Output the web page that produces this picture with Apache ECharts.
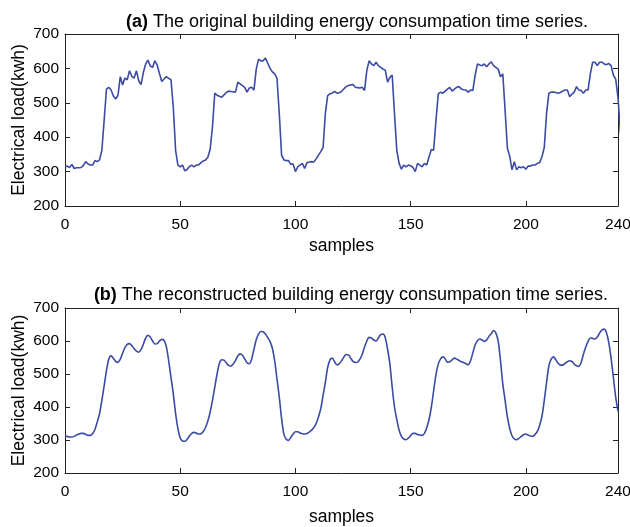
<!DOCTYPE html>
<html><head><meta charset="utf-8">
<script src="https://cdn.jsdelivr.net/npm/echarts@6/dist/echarts.min.js"></script>
<style>html,body{margin:0;padding:0;background:#fff}#c{width:630px;height:527px}</style>
</head><body><div id="c"></div>
<script>
const titleA = "The original building energy consumpation time series.";
const titleB = "The reconstructed building energy consumpation time series.";
const xTicks = [0, 50, 100, 150, 200, 240];
const yTicks = [200, 300, 400, 500, 600, 700];
const xName = "samples";
const yName = "Electrical load(kwh)";

const original = [
315,316,312,321,309,311,311,312,318,329,322,319,319,332,329,334,362,450,540,545,
537,520,511,522,576,552,572,567,593,577,572,593,564,553,588,613,624,607,603,622,
610,585,562,569,576,571,567,487,362,319,314,319,302,306,315,319,314,319,319,326,
331,334,342,365,430,528,522,519,516,523,530,534,533,532,531,560,555,550,545,531,
543,545,537,598,627,622,622,630,615,600,590,584,572,468,348,334,332,332,321,322,
300,314,319,324,309,326,328,329,328,337,348,358,370,470,521,526,528,533,528,529,
533,540,547,550,552,553,545,544,543,545,536,595,622,613,608,618,608,603,598,595,
560,574,581,468,362,324,307,319,314,319,317,312,300,324,319,314,324,319,343,364,
362,449,526,531,528,534,540,545,534,540,545,547,540,538,537,531,537,536,580,613,
610,608,613,605,613,619,608,603,598,576,584,478,368,345,305,329,305,314,311,314,
307,316,316,319,319,324,326,343,370,470,528,531,531,530,528,530,534,537,537,518,
525,531,547,537,536,528,537,537,584,618,618,608,618,618,613,611,614,608,580,569,
515,420,352
];
const reconstructed = [
312,311,309,309,311,315,318,320,320,317,314,314,320,332,355,380,420,465,510,545,
555,548,538,535,545,563,580,590,592,586,577,569,566,574,590,609,617,612,600,591,
592,600,605,602,582,540,490,440,380,335,306,297,296,302,312,320,323,321,318,319,
326,338,358,385,420,460,500,532,543,542,534,526,524,530,541,555,561,557,546,534,
531,545,575,604,621,629,628,621,610,598,578,540,485,430,365,318,302,299,308,318,
325,325,321,319,318,320,324,330,338,350,370,395,435,475,520,543,548,537,528,531,
540,551,559,558,548,538,535,536,545,560,582,600,611,609,603,600,609,619,621,610,
575,530,460,400,362,330,311,303,301,306,313,320,320,317,315,314,320,338,362,400,
450,498,530,546,552,546,536,537,543,548,545,541,537,535,531,528,540,564,588,601,
606,603,599,603,614,622,632,624,600,540,470,420,370,335,313,303,301,305,311,316,
318,315,312,311,317,326,345,372,420,475,525,545,552,543,533,527,527,532,537,540,
538,530,525,523,535,560,582,598,609,608,606,612,624,633,636,625,595,548,490,430,
387
];

const FONT = "Liberation Sans, Arial, Helvetica, sans-serif";
const LINE = '#3b4aa6';
const chart = echarts.init(document.getElementById('c'), null, {renderer: 'canvas'});

function pairs(arr){ return arr.map((v,i)=>[i,v]); }

const grids = [
  {left: 65, right: 12, top: 34, height: 172, outerBoundsMode: 'none', containLabel: false},
  {left: 65, right: 12, top: 308, height: 165, outerBoundsMode: 'none', containLabel: false}
];

function xAx(gi, pos, labels, gap){
  return {
    type: 'value', gridIndex: gi, position: pos, min: 0, max: 240,
    name: labels ? xName : '', nameLocation: 'middle', nameGap: gap || 30,
    nameTextStyle: {fontFamily: FONT, fontSize: 17.5, color: '#000'},
    axisLine: {show: true, onZero: false, lineStyle: {color: '#222', width: 1}},
    axisTick: {show: true, inside: true, length: 5, customValues: xTicks, lineStyle: {color: '#222'}},
    axisLabel: {show: labels, customValues: xTicks, fontFamily: FONT, fontSize: 15.5, color: '#000', margin: 11},
    splitLine: {show: false}
  };
}
function yAx(gi, pos, labels){
  return {
    type: 'value', gridIndex: gi, position: pos, min: 200, max: 700, interval: 100,
    name: labels ? yName : '', nameLocation: 'middle', nameGap: 37, nameMoveOverlap: false,
    nameTextStyle: {fontFamily: FONT, fontSize: 17.5, color: '#000'},
    axisLine: {show: true, onZero: false, lineStyle: {color: '#222', width: 1}},
    axisTick: {show: true, inside: true, length: 5, lineStyle: {color: '#222'}},
    axisLabel: {show: labels, fontFamily: FONT, fontSize: 15.5, color: '#000', margin: 6},
    splitLine: {show: false}
  };
}

const titleStyle = {fontFamily: FONT, fontSize: 18, fontWeight: 'normal', color: '#000',
  rich: {b: {fontFamily: FONT, fontSize: 18, fontWeight: 'bold', color: '#000'}}};

chart.setOption({
  animation: false,
  backgroundColor: '#fff',
  title: [
    {text: '{b|(a)} ' + titleA, left: 352, top: 8, textAlign: 'center', textStyle: titleStyle},
    {text: '{b|(b)} ' + titleB, left: 346, top: 281, textAlign: 'center', textStyle: titleStyle}
  ],
  grid: grids,
  xAxis: [xAx(0,'bottom',true,31), xAx(0,'top',false), xAx(1,'bottom',true,35), xAx(1,'top',false)],
  yAxis: [yAx(0,'left',true), yAx(0,'right',false), yAx(1,'left',true), yAx(1,'right',false)],
  series: [
    {type: 'line', xAxisIndex: 0, yAxisIndex: 0, data: pairs(original), showSymbol: false,
     lineStyle: {color: LINE, width: 1.6}, smooth: false},
    {type: 'line', xAxisIndex: 2, yAxisIndex: 2, data: pairs(reconstructed), showSymbol: false,
     lineStyle: {color: LINE, width: 1.6}, smooth: 0.3}
  ]
});
</script></body></html>
